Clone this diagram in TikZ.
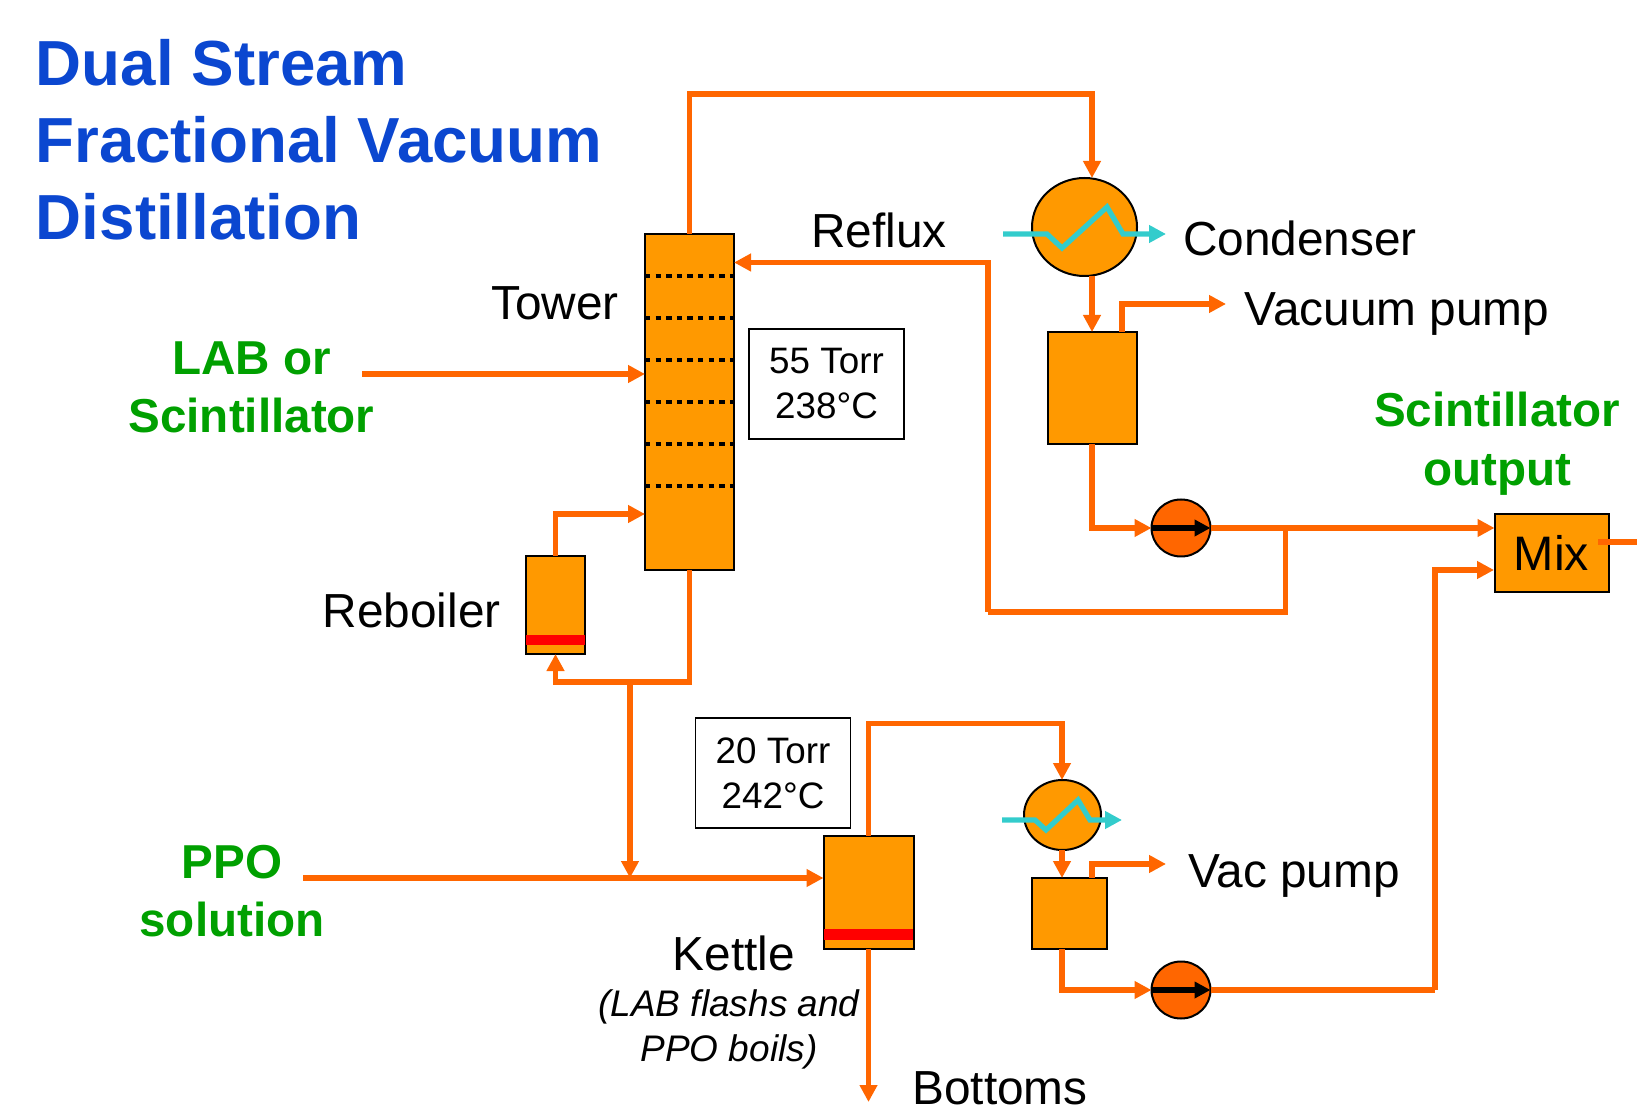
\documentclass[tikz,border=0pt]{standalone}
\usepackage{fontspec}
\setmainfont{Liberation Sans}
\usetikzlibrary{arrows.meta,positioning,shapes.geometric}
\definecolor{vesselfill}{HTML}{FF9900}
\definecolor{pipe}{HTML}{FF6600}
\definecolor{coolant}{HTML}{33CCCC}
\definecolor{titleblue}{HTML}{0B47D0}
\definecolor{feedgreen}{HTML}{00A000}

\begin{document}
\begin{tikzpicture}[
    x=0.5pt, y=-0.5pt,
    vessel/.style={draw=black, line width=1pt, fill=vesselfill, inner sep=0pt, outer sep=0pt},
    drum/.style={vessel, ellipse},
    pumpbody/.style={vessel, ellipse, fill=pipe, minimum width=29.5pt},
    flow/.style={draw=pipe, line width=2.6pt, -{Triangle[length=8.5pt,width=8.5pt]}},
    line/.style={draw=pipe, line width=2.6pt},
    cool/.style={draw=coolant, line width=2.6pt, -{Triangle[length=8.5pt,width=8.5pt]}},
    shaftarrow/.style={black, line width=2.6pt, -{Triangle[length=8pt,width=8pt]}},
    lbl/.style={font=\fontsize{23.9}{28}\selectfont, inner sep=0pt},
    feed/.style={font=\fontsize{23.8}{28.7}\selectfont\bfseries, text=feedgreen, align=center, inner sep=0pt},
    info/.style={draw=black, line width=0.6pt, fill=white, font=\fontsize{18.4}{22.5}\selectfont, align=center, minimum width=77.5pt, minimum height=55pt, inner sep=0pt}
  ]
\useasboundingbox (0,0) rectangle (1637,1111);

% Title
\node[font=\fontsize{31.85}{38.6}\selectfont\bfseries, text=titleblue, align=left, inner sep=0pt, anchor=north west] (title) at (35.5,39)
  {Dual Stream\\Fractional Vacuum\\Distillation};

% Tower with its trays
\node[vessel, minimum width=44.5pt, minimum height=168pt] (tower) at (689.5,402) {};
\foreach \y in {276,318,360,402,444,486} {
  \draw[black, line width=2pt, dash pattern=on 2.7pt off 2.6pt] (tower.west |- 0,\y) -- (tower.east |- 0,\y);
}

% Reboiler
\node[vessel, minimum width=29.5pt, minimum height=49pt] (reb) at (555.5,605) {};
\fill[red] (526,635) rectangle (585,645);

% Upper condenser, separator and pump
\node[drum, minimum width=52.5pt, minimum height=49pt] (cond) at (1084.5,227) {};
\node[vessel, minimum width=44.5pt, minimum height=56pt] (sep) at (1092,388) {};
\node[pumpbody, minimum height=28.5pt] (pump) at (1181,528) {};

% Mixer
\node[vessel, minimum width=57pt, minimum height=39pt, font=\fontsize{24.2}{28}\selectfont] (mix) at (1551.5,553) {Mix};

% Kettle
\node[vessel, minimum width=45pt, minimum height=56.5pt] (kettle) at (868.5,892.5) {};
\fill[red] (824,929) rectangle (913,940);

% Lower condenser, separator and pump
\node[drum, minimum width=38.5pt, minimum height=35pt] (condb) at (1062.5,815) {};
\node[vessel, minimum width=37.5pt, minimum height=35.5pt] (sepb) at (1069.5,913.5) {};
\node[pumpbody, minimum height=28.5pt] (pumpb) at (1181,990) {};

% Info boxes
\node[info] (infoa) at (826.5,384) {55 Torr\\238°C};
\node[info] (infob) at (773,773) {20 Torr\\242°C};

% Free ends and bends of the pipes
\coordinate (labin) at (362,374);
\coordinate (ppoin) at (303,878);
\coordinate (topbend) at (1092,94);
\coordinate (vacup) at (1122,304);
\coordinate (vacend) at (1226,304);
\coordinate (splitr) at (1285.5,528);
\coordinate (refluxb) at (988,612);
\coordinate (refluxt) at (988,262.5);
\coordinate (rebup) at (555.5,514);
\coordinate (split) at (630,682);
\coordinate (ppojoin) at (630,878);
\coordinate (ketbend) at (1062,723.5);
\coordinate (vacbend) at (1092,864);
\coordinate (vacbendb) at (1166,864);
\coordinate (bottoms) at (868.5,1102);
\coordinate (lowrun) at (1435,990);
\coordinate (mixin) at (1494,570);
\coordinate (mixstub) at (1598,542);
\coordinate (mixout) at (1637,542);

% Upper pipes
\draw[flow] (labin) -- (labin -| tower.west);
\draw[flow] (tower.north) |- (topbend) -- (topbend |- cond.north);
\draw[flow] (topbend |- cond.south) -- (sep.north);
\draw[flow] (vacup |- sep.north) -- (vacup) -- (vacend);
\draw[flow] (sep.south) |- (pump.west);
\draw[flow] (pump.east) -- (pump.east -| mix.west);
\draw[line] (splitr) |- (refluxb);
\draw[flow] (refluxb) -- (refluxt) -- (refluxt -| tower.east);
\draw[flow] (reb.north) -- (rebup) -- (rebup -| tower.west);
\draw[flow] (tower.south) |- (reb.south |- split) -- (reb.south);
\draw[flow] (split) -- (ppojoin);
\draw[line] (mixstub) -- (mixout);

% Lower pipes
\draw[flow] (ppoin) -- (ppoin -| kettle.west);
\draw[flow] (kettle.north) |- (ketbend) -- (ketbend |- condb.north);
\draw[flow] (ketbend |- condb.south) -- (ketbend |- sepb.north);
\draw[flow] (vacbend |- sepb.north) -- (vacbend) -- (vacbendb);
\draw[flow] (ketbend |- sepb.south) |- (pumpb.west);
\draw[line] (pumpb.east) -- (lowrun);
\draw[flow] (lowrun) |- (mixin);
\draw[flow] (kettle.south) -- (bottoms);

% Coolant lines
\draw[cool] (1003,234) -- (1047,234) -- (1062,248) -- (1107,207) -- (1123,234) -- (1166,234);
\draw[cool] (1002,820) -- (1035,820) -- (1046,830) -- (1078,800) -- (1090,820) -- (1122,820);

% Pump arrows
\draw[shaftarrow] (pump.west) -- (pump.east);
\draw[shaftarrow] (pumpb.west) -- (pumpb.east);

% Labels
\node[lbl] (towerlbl) at (555,303) {Tower};
\node[lbl, left=12.5pt of reb, yshift=-2.5pt] (reblbl) {Reboiler};
\node[lbl] (refluxlbl) at (879,230) {Reflux};
\node[lbl] (condlbl) at (1300,238) {Condenser};
\node[lbl] (vaclbl) at (1397,314) {Vacuum pump};
\node[lbl] (vacblbl) at (1294,876) {Vac pump};
\node[lbl] (kettlelbl) at (734,953) {Kettle};
\node[font=\fontsize{18.5}{22.5}\selectfont\itshape, align=center, inner sep=0pt] (kettlenote) at (729,1029.5) {(LAB flashs and\\PPO boils)};
\node[lbl] (botlbl) at (1000,1088) {Bottoms};
\node[feed] (labfeed) at (251.5,387.5) {LAB or\\Scintillator};
\node[feed] (ppofeed) at (232,891) {PPO\\solution};
\node[feed, font=\fontsize{23.8}{29.6}\selectfont\bfseries] (scintout) at (1497,444) {Scintillator\\output};

\end{tikzpicture}
\end{document}
